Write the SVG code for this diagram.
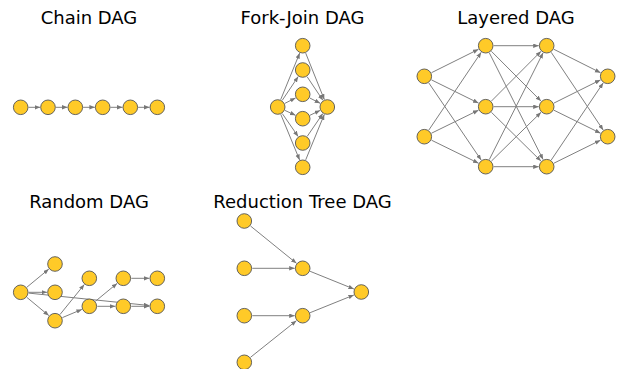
<svg xmlns="http://www.w3.org/2000/svg" width="625" height="369" viewBox="0 0 625 369">
<style>
.t{font-family:"DejaVu Sans",sans-serif;font-size:18px;fill:#000;text-anchor:middle}
.n{fill:#FFCA28;stroke:#555;stroke-width:0.9}
.e line{stroke:#808080;stroke-width:1;marker-end:url(#ah)}
</style>
<defs>
<marker id="ah" markerUnits="userSpaceOnUse" markerWidth="6" markerHeight="5" refX="5.5" refY="2.2" orient="auto">
<path d="M0,0 L5.5,2.2 L0,4.4 z" fill="#777"/>
</marker>
<circle id="c" r="7.3" class="n"/>
</defs>
<rect width="625" height="369" fill="#fff"/>
<g id="titles">
<text class="t" x="89" y="23.5">Chain DAG</text>
<text class="t" x="302.5" y="23.5">Fork-Join DAG</text>
<text class="t" x="516" y="23.5">Layered DAG</text>
<text class="t" x="89" y="208.3">Random DAG</text>
<text class="t" x="302.5" y="208.3">Reduction Tree DAG</text>
</g>
<g id="connectors" class="e">
<!-- chain -->
<line x1="28.5" y1="107.3" x2="40.2" y2="107.3"/>
<line x1="55.8" y1="107.3" x2="67.5" y2="107.3"/>
<line x1="83.1" y1="107.3" x2="94.9" y2="107.3"/>
<line x1="110.5" y1="107.3" x2="122.5" y2="107.3"/>
<line x1="138.1" y1="107.3" x2="149.5" y2="107.3"/>
<!-- fork-join -->
<line x1="280.7" y1="99.6" x2="299.7" y2="53.1"/>
<line x1="282.2" y1="100.4" x2="298.2" y2="76.6"/>
<line x1="284.8" y1="103.4" x2="295.6" y2="97.9"/>
<line x1="284.9" y1="110.4" x2="295.5" y2="115.3"/>
<line x1="282.3" y1="113.6" x2="298.1" y2="136.4"/>
<line x1="280.8" y1="114.4" x2="299.6" y2="159.9"/>
<line x1="305.7" y1="53.1" x2="324.3" y2="99.6"/>
<line x1="307.1" y1="76.7" x2="322.9" y2="100.3"/>
<line x1="309.8" y1="98" x2="320.2" y2="103.3"/>
<line x1="309.9" y1="115.3" x2="320.1" y2="110.4"/>
<line x1="307.2" y1="136.4" x2="322.8" y2="113.6"/>
<line x1="305.7" y1="159.9" x2="324.3" y2="114.4"/>
<!-- layered -->
<line x1="431.5" y1="72.7" x2="478.5" y2="49.3"/>
<line x1="431.5" y1="79.9" x2="478.5" y2="103.1"/>
<line x1="428.8" y1="82.9" x2="481.2" y2="160.1"/>
<line x1="428.8" y1="130.1" x2="481.2" y2="52.3"/>
<line x1="431.5" y1="133.2" x2="478.5" y2="110.2"/>
<line x1="431.5" y1="140.2" x2="478.5" y2="163.2"/>
<line x1="493.7" y1="45.7" x2="538.7" y2="45.7"/>
<line x1="491.4" y1="51.3" x2="541" y2="101.1"/>
<line x1="489.3" y1="52.8" x2="543.1" y2="159.6"/>
<line x1="491.4" y1="101.1" x2="541" y2="51.3"/>
<line x1="493.7" y1="106.7" x2="538.7" y2="106.7"/>
<line x1="491.4" y1="112.3" x2="541" y2="161.1"/>
<line x1="489.3" y1="159.6" x2="543.1" y2="52.8"/>
<line x1="491.4" y1="161.1" x2="541" y2="112.3"/>
<line x1="493.7" y1="166.7" x2="538.7" y2="166.7"/>
<line x1="553.9" y1="49.3" x2="600.5" y2="72.7"/>
<line x1="551.2" y1="52.3" x2="603.2" y2="130.1"/>
<line x1="553.9" y1="103.1" x2="600.5" y2="79.9"/>
<line x1="553.9" y1="110.2" x2="600.5" y2="133.2"/>
<line x1="551.2" y1="160.1" x2="603.2" y2="82.9"/>
<line x1="553.9" y1="163.2" x2="600.5" y2="140.2"/>
<!-- random -->
<line x1="26.9" y1="287.2" x2="48.8" y2="269.1"/>
<line x1="28.7" y1="292.3" x2="47" y2="292.3"/>
<line x1="26.9" y1="297.4" x2="48.8" y2="315.6"/>
<line x1="28.7" y1="293.1" x2="149.3" y2="305.5"/>
<line x1="60" y1="314.5" x2="84.3" y2="284.5"/>
<line x1="62.4" y1="317.6" x2="81.9" y2="309.4"/>
<line x1="95.5" y1="301.2" x2="117.1" y2="283.4"/>
<line x1="97.3" y1="306.3" x2="115.3" y2="306.3"/>
<line x1="131.3" y1="278.3" x2="149.3" y2="278.3"/>
<line x1="131.3" y1="306.3" x2="149.3" y2="306.3"/>
<!-- reduction -->
<line x1="250.5" y1="226" x2="296.5" y2="263.3"/>
<line x1="252.3" y1="268.3" x2="294.7" y2="268.3"/>
<line x1="252.3" y1="315.7" x2="294.7" y2="315.7"/>
<line x1="250.5" y1="357.3" x2="296.4" y2="320.7"/>
<line x1="310.1" y1="271.3" x2="353.9" y2="289"/>
<line x1="310.1" y1="312.7" x2="353.9" y2="295"/>
</g>
<g id="chain">
<g id="ch0"><use href="#c" x="20.7" y="107.3"/></g>
<g id="ch1"><use href="#c" x="48" y="107.3"/></g>
<g id="ch2"><use href="#c" x="75.3" y="107.3"/></g>
<g id="ch3"><use href="#c" x="102.7" y="107.3"/></g>
<g id="ch4"><use href="#c" x="130.3" y="107.3"/></g>
<g id="ch5"><use href="#c" x="157.3" y="107.3"/></g>
</g>
<g id="forkjoin">
<g id="fj-src"><use href="#c" x="277.7" y="107"/></g>
<g id="fj-m0"><use href="#c" x="302.7" y="45.7"/></g>
<g id="fj-m1"><use href="#c" x="302.7" y="70"/></g>
<g id="fj-m2"><use href="#c" x="302.7" y="94.3"/></g>
<g id="fj-m3"><use href="#c" x="302.7" y="118.7"/></g>
<g id="fj-m4"><use href="#c" x="302.7" y="143"/></g>
<g id="fj-m5"><use href="#c" x="302.7" y="167.3"/></g>
<g id="fj-sink"><use href="#c" x="327.3" y="107"/></g>
</g>
<g id="layered">
<g id="ly-00"><use href="#c" x="424.3" y="76.3"/></g>
<g id="ly-01"><use href="#c" x="424.3" y="136.7"/></g>
<g id="ly-10"><use href="#c" x="485.7" y="45.7"/></g>
<g id="ly-11"><use href="#c" x="485.7" y="106.7"/></g>
<g id="ly-12"><use href="#c" x="485.7" y="166.7"/></g>
<g id="ly-20"><use href="#c" x="546.7" y="45.7"/></g>
<g id="ly-21"><use href="#c" x="546.7" y="106.7"/></g>
<g id="ly-22"><use href="#c" x="546.7" y="166.7"/></g>
<g id="ly-30"><use href="#c" x="607.7" y="76.3"/></g>
<g id="ly-31"><use href="#c" x="607.7" y="136.7"/></g>
</g>
<g id="random">
<g id="rd-a"><use href="#c" x="20.7" y="292.3"/></g>
<g id="rd-b"><use href="#c" x="55" y="264"/></g>
<g id="rd-c"><use href="#c" x="55" y="292.3"/></g>
<g id="rd-d"><use href="#c" x="55" y="320.7"/></g>
<g id="rd-e"><use href="#c" x="89.3" y="278.3"/></g>
<g id="rd-f"><use href="#c" x="89.3" y="306.3"/></g>
<g id="rd-g"><use href="#c" x="123.3" y="278.3"/></g>
<g id="rd-h"><use href="#c" x="123.3" y="306.3"/></g>
<g id="rd-i"><use href="#c" x="157.3" y="278.3"/></g>
<g id="rd-j"><use href="#c" x="157.3" y="306.3"/></g>
</g>
<g id="reduction">
<g id="rt-l1"><use href="#c" x="244.3" y="221"/></g>
<g id="rt-l2"><use href="#c" x="244.3" y="268.3"/></g>
<g id="rt-l3"><use href="#c" x="244.3" y="315.7"/></g>
<g id="rt-l4"><use href="#c" x="244.3" y="362.3"/></g>
<g id="rt-m1"><use href="#c" x="302.7" y="268.3"/></g>
<g id="rt-m2"><use href="#c" x="302.7" y="315.7"/></g>
<g id="rt-root"><use href="#c" x="361.3" y="292"/></g>
</g>
</svg>
